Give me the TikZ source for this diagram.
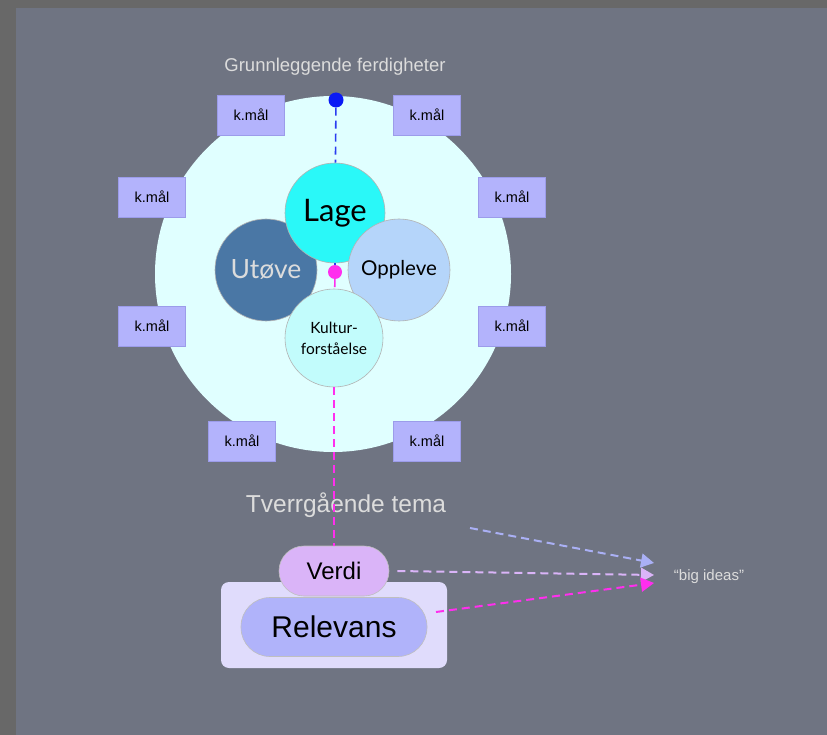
\documentclass[tikz,border=0pt]{standalone}
\usepackage{fontspec}
\setmainfont{Liberation Sans}
\newfontfamily\circfont{Lato}
\usetikzlibrary{arrows.meta}
\definecolor{frame}{HTML}{686868}
\definecolor{panel}{HTML}{6F7482}
\definecolor{bigc}{HTML}{E0FFFF}
\definecolor{lagec}{HTML}{2AF8F8}
\definecolor{utovec}{HTML}{4A77A5}
\definecolor{opplevec}{HTML}{B5D5FA}
\definecolor{kulturc}{HTML}{C2FCFC}
\definecolor{kmal}{HTML}{B3B3FC}
\definecolor{kmalb}{HTML}{9C9CEA}
\definecolor{verdic}{HTML}{DAB4F8}
\definecolor{relc}{HTML}{B0B3FA}
\definecolor{boxc}{HTML}{E0DCFC}
\definecolor{lightt}{HTML}{DCDCDC}
\definecolor{dotblue}{HTML}{0A1AF5}
\definecolor{mag}{HTML}{FF2EEE}
\definecolor{lav}{HTML}{AAB0F5}
\definecolor{bluel}{HTML}{2A3CF0}
\begin{document}
\begin{tikzpicture}[x=1pt,y=-1pt,
  kbox/.style={draw=kmalb,fill=kmal,minimum width=67pt,minimum height=40pt,inner sep=0pt,font=\fontsize{14.5}{17}\selectfont},
  circ/.style={circle,draw=black!30,line width=0.6pt,inner sep=0pt,align=center,font=\circfont},
  pill/.style={draw=black!25,line width=0.6pt,rounded corners=#1,inner sep=0pt},
  dline/.style={line width=2pt,dash pattern=on 8pt off 5pt},
  tip/.style={-{Triangle[length=13pt,width=14pt]}}
]
\useasboundingbox (0,0) rectangle (827,735);
\fill[frame] (0,0) rectangle (827,735);
\fill[panel] (16,8) rectangle (827,735);

\node[circle,fill=bigc,minimum size=356pt,inner sep=0pt] (big) at (333,274) {};

\node[font=\fontsize{18.5}{22}\selectfont,text=lightt] (gf) at (335,67) {Grunnleggende ferdigheter};

\node[kbox] (k1) at (251,115) {k.mål};
\node[kbox] (k2) at (427,115) {k.mål};
\node[kbox] (k3) at (152,197) {k.mål};
\node[kbox] (k4) at (512,197) {k.mål};
\node[kbox] (k5) at (152,326) {k.mål};
\node[kbox] (k6) at (512,326) {k.mål};
\node[kbox] (k7) at (242,441) {k.mål};
\node[kbox] (k8) at (427,441) {k.mål};

\node[circ,fill=utovec,text=lightt,minimum size=102pt,font=\circfont\fontsize{26.5}{30}\selectfont] (utove) at (266,270) {Utøve};
\node[circ,fill=lagec,minimum size=100pt,font=\circfont\fontsize{31}{34}\selectfont] (lage) at (335,213) {Lage};
\node[circ,fill=opplevec,minimum size=102pt,font=\circfont\fontsize{20.5}{24}\selectfont] (oppleve) at (399,270) {Oppleve};

\node[circle,fill=dotblue,minimum size=15pt,inner sep=0pt] (bdot) at (336,100) {};
\node[circle,fill=mag,minimum size=14pt,inner sep=0pt] (mdot) at (335,272) {};
\draw[dline,bluel,line width=1.6pt] (bdot) -- (lage);
\draw[dline,bluel,line width=1.6pt] (lage) -- (mdot);

\node[circ,fill=kulturc,minimum size=98pt,font=\circfont\fontsize{15.5}{21}\selectfont] (kultur) at (334,338) {Kultur-\\forståelse};
\draw[dline,mag,line width=1.6pt] (mdot) -- (kultur);

\node[font=\fontsize{24.5}{28}\selectfont,text=lightt] (tema) at (346,505) {Tverrgående tema};

\node[fill=boxc,rounded corners=8pt,minimum width=226pt,minimum height=86pt,inner sep=0pt] (box) at (334,625) {};
\node[pill=25pt,fill=verdic,minimum width=110pt,minimum height=50pt,font=\fontsize{24}{28}\selectfont] (verdi) at (334,571) {Verdi};
\node[pill=29pt,fill=relc,minimum width=186pt,minimum height=59pt,font=\fontsize{30}{34}\selectfont] (rel) at (334,627) {Relevans};

\draw[dline,mag,line width=1.6pt] (kultur) -- (verdi);

\node[font=\fontsize{15}{18}\selectfont,text=lightt] (big ideas) at (709,577) {“big ideas”};

\coordinate (s1) at (470,528);
\coordinate (e1) at (654,563);
\coordinate (e2) at (654,575);
\coordinate (e3) at (654,583);
\coordinate (s3) at (436,612);
\draw[dline,lav,tip] (s1) -- (e1);
\draw[dline,verdic,tip] (verdi.east) ++(8,0) coordinate (s2) -- (e2);
\draw[dline,mag,tip] (s3) -- (e3);
\end{tikzpicture}
\end{document}
